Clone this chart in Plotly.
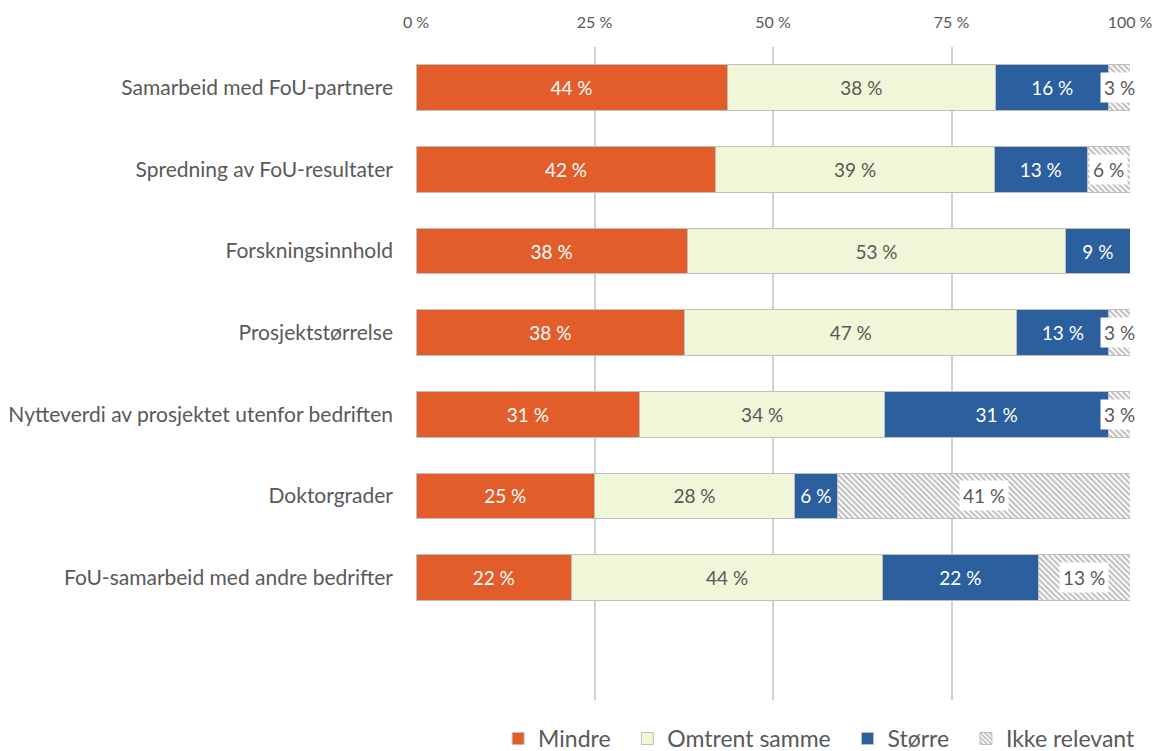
import plotly.graph_objects as go

# Survey items (top to bottom)
categories = [
    "Samarbeid med FoU-partnere",
    "Spredning av FoU-resultater",
    "Forskningsinnhold",
    "Prosjektstørrelse",
    "Nytteverdi av prosjektet utenfor bedriften",
    "Doktorgrader",
    "FoU-samarbeid med andre bedrifter",
]

# Share of answers per category (%)
mindre = [44, 42, 38, 38, 31, 25, 22]
omtrent_samme = [38, 39, 53, 47, 34, 28, 44]
storre = [16, 13, 9, 13, 31, 6, 22]
ikke_relevant = [3, 6, 0, 3, 3, 41, 13]

series_names = ["Mindre", "Omtrent samme", "Større", "Ikke relevant"]
x_ticks = [0, 25, 50, 75, 100]
x_tick_labels = ["0 %", "25 %", "50 %", "75 %", "100 %"]

FONT = "Lato, 'Open Sans', sans-serif"
TEXT_GREY = "#595959"
OUTLINE = "#BFBFBF"
LABEL_SIZE = 19
PAD = "\u00a0\u00a0"  # extra room between legend entries

fig = go.Figure()

styles = [
    dict(color="#E35D2B", text_color="white"),
    dict(color="#F1F6D8", text_color=TEXT_GREY),
    dict(color="#2C5F9E", text_color="white"),
]
for name, vals, st in zip(series_names[:3], [mindre, omtrent_samme, storre], styles):
    fig.add_trace(go.Bar(
        name=name + PAD, y=categories, x=vals, orientation="h",
        marker=dict(color=st["color"], line=dict(color=OUTLINE, width=1)),
        text=[f"{v} %" if v else "" for v in vals],
        textposition="inside", insidetextanchor="middle", textangle=0,
        constraintext="none",
        textfont=dict(family=FONT, size=LABEL_SIZE, color=st["text_color"]),
        width=0.56, hoverinfo="skip",
    ))

# Hatched "not relevant" segment
fig.add_trace(go.Bar(
    name=series_names[3], y=categories, x=ikke_relevant, orientation="h",
    marker=dict(color="white", line=dict(color=OUTLINE, width=1),
                pattern=dict(shape="\\", fgcolor="#7A7A7A", bgcolor="white",
                             size=4, solidity=0.5)),
    width=0.56, hoverinfo="skip",
))

# Labels for the hatched segments sit on white boxes, centred in the
# normalised segment
for i, cat in enumerate(categories):
    total = mindre[i] + omtrent_samme[i] + storre[i] + ikke_relevant[i]
    if ikke_relevant[i] == 0:
        continue
    start = (mindre[i] + omtrent_samme[i] + storre[i]) / total * 100
    centre = start + ikke_relevant[i] / total * 100 / 2
    fig.add_annotation(
        x=centre, y=cat, xref="x", yref="y",
        text=f"{ikke_relevant[i]} %", showarrow=False,
        font=dict(family=FONT, size=LABEL_SIZE, color=TEXT_GREY),
        bgcolor="white", borderpad=3,
    )

fig.update_layout(
    barmode="stack", barnorm="percent",
    width=1161, height=751,
    margin=dict(l=416, r=31, t=47, b=51, autoexpand=False),
    plot_bgcolor="white", paper_bgcolor="white",
    font=dict(family=FONT, color=TEXT_GREY),
    showlegend=True,
    legend=dict(orientation="h", x=0.115, xanchor="left", y=-0.059,
                yanchor="middle", font=dict(family=FONT, size=23, color=TEXT_GREY),
                itemwidth=30, traceorder="normal"),
)
fig.update_xaxes(
    side="top", range=[0, 100], tickvals=x_ticks, ticktext=x_tick_labels,
    showgrid=True, gridcolor="#D0D0D0", gridwidth=1.5,
    zeroline=False, showline=False, ticks="",
    tickfont=dict(family=FONT, size=16, color=TEXT_GREY), ticklabelstandoff=15,
    fixedrange=True,
)
fig.update_yaxes(
    categoryorder="array", categoryarray=categories,
    autorange=False, range=[7.5, -0.5],
    showgrid=False, zeroline=False, showline=False, ticks="",
    tickfont=dict(family=FONT, size=21, color=TEXT_GREY), ticklabelstandoff=22,
    fixedrange=True,
)

fig.write_html("out.html")
